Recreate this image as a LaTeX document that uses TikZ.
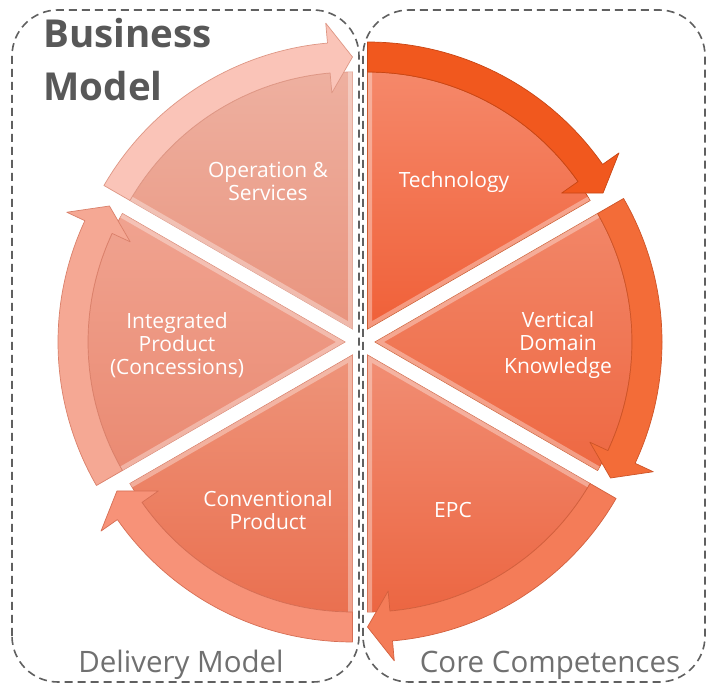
\documentclass[tikz,border=0pt]{standalone}
\usepackage{fontspec}
\setmainfont{Open Sans}
\usetikzlibrary{calc}

% segment colours: wedge top, wedge bottom, arrow band, outline
\definecolor{opsTop}{RGB}{238,176,160}
\definecolor{opsBot}{RGB}{233,148,126}
\definecolor{opsBand}{RGB}{250,196,184}
\definecolor{opsLine}{RGB}{222,150,132}
\definecolor{intTop}{RGB}{240,163,144}
\definecolor{intBot}{RGB}{234,138,114}
\definecolor{intBand}{RGB}{245,168,148}
\definecolor{intLine}{RGB}{218,128,106}
\definecolor{conTop}{RGB}{238,148,122}
\definecolor{conBot}{RGB}{234,112,80}
\definecolor{conBand}{RGB}{247,146,120}
\definecolor{conLine}{RGB}{214,110,84}
\definecolor{epcTop}{RGB}{241,142,116}
\definecolor{epcBot}{RGB}{236,102,66}
\definecolor{epcBand}{RGB}{244,124,88}
\definecolor{epcLine}{RGB}{210,96,62}
\definecolor{vdkTop}{RGB}{242,134,104}
\definecolor{vdkBot}{RGB}{238,104,66}
\definecolor{vdkBand}{RGB}{243,108,56}
\definecolor{vdkLine}{RGB}{205,84,40}
\definecolor{techTop}{RGB}{245,136,106}
\definecolor{techBot}{RGB}{240,96,56}
\definecolor{techBand}{RGB}{241,88,30}
\definecolor{techLine}{RGB}{200,70,20}
\definecolor{frameGray}{RGB}{96,96,96}
\definecolor{titleGray}{RGB}{88,88,88}
\definecolor{captionGray}{RGB}{112,112,112}

\tikzset{
  groupframe/.style={draw=frameGray,line width=1.6pt,dash pattern=on 8pt off 5pt,rounded corners=46pt},
  seglabel/.style={text=white,align=center,font=\fontsize{21}{23}\selectfont},
  caption/.style={text=captionGray,anchor=base,font=\fontsize{29.5}{33}\selectfont},
  titletext/.style={text=titleGray,anchor=base west,font=\fontsize{38.5}{44}\selectfont\bfseries},
}

% one pie segment with its curved arrow band
% #1 start angle (segment runs clockwise 60 degrees), #2 name, #3 colour prefix
\newcommand{\cycleseg}[3]{%
  \pgfmathsetmacro{\segmid}{#1-30}%
  \pgfmathsetmacro{\segend}{#1-60}%
  \pgfmathsetmacro{\bandend}{#1-55}%
  \coordinate (#2-apex) at ($(C)+(\segmid:15)$);
  \path[top color=#3Top,bottom color=#3Bot,draw=#3Line,line width=0.7pt]
    (#2-apex) -- ++(#1:257) arc[start angle=#1,end angle=\segend,radius=257] -- cycle;
  \begin{scope}
    \clip (#2-apex) -- ++(#1:257) arc[start angle=#1,end angle=\segend,radius=257] -- cycle;
    \draw[white,opacity=0.35,line width=9pt]
      ($(#2-apex)+(#1:257)$) -- (#2-apex) -- ($(#2-apex)+(\segend:257)$);
  \end{scope}
  \path[fill=#3Band,draw=#3Line,line width=0.7pt,line join=round]
    ($(#2-apex)+(#1:257)$) -- ($(#2-apex)+(#1:287)$)
    arc[start angle=#1,end angle=\bandend,radius=287]
    -- ($(#2-apex)+(\bandend:307)$) -- ($(#2-apex)+(\segend:272)$)
    -- ($(#2-apex)+(\bandend:237)$) -- ($(#2-apex)+(\bandend:257)$)
    arc[start angle=\bandend,end angle=#1,radius=257] -- cycle;
}

\begin{document}
\begin{tikzpicture}[x=1pt,y=1pt]
  \useasboundingbox (0,0) rectangle (708,684);
  \fill[white] (0,0) rectangle (708,684);
  \coordinate (C) at (360,342);

  % the two dashed groups
  \draw[groupframe] (12,2) rectangle (359,674);
  \draw[groupframe] (363,2) rectangle (705,674);

  % six segments, clockwise from the top
  \cycleseg{90}{tech}{tech}
  \cycleseg{30}{vdk}{vdk}
  \cycleseg{-30}{epc}{epc}
  \cycleseg{-90}{con}{con}
  \cycleseg{-150}{int}{int}
  \cycleseg{150}{ops}{ops}

  % segment texts
  \node[seglabel] (opsText) at (268,503) {Operation \&\\Services};
  \node[seglabel] (techText) at (454,502) {Technology};
  \node[seglabel] (vdkText) at (558,339) {Vertical\\Domain\\Knowledge};
  \node[seglabel] (epcText) at (453,174) {EPC};
  \node[seglabel] (conText) at (268,174) {Conventional\\Product};
  \node[seglabel] (intText) at (177,339) {Integrated\\Product\\(Concessions)};

  % group titles
  \node[titletext] (titleA) at (40,636) {Business};
  \node[titletext] (titleB) at (40,583) {Model};
  \node[caption] (deliv) at (181,12) {Delivery Model};
  \node[caption] (core) at (550,12) {Core Competences};
\end{tikzpicture}
\end{document}
